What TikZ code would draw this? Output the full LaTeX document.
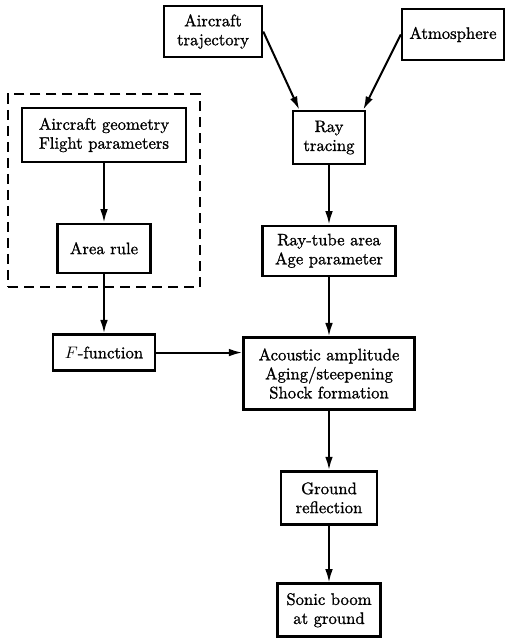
\documentclass[tikz,border=0pt]{standalone}
\usepackage{fontspec}
\usepackage{tikz}
\usetikzlibrary{arrows.meta,calc,positioning,fit}
\newfontfamily\boxfont[FakeBold=1.1]{lmroman10-regular.otf}

\begin{document}
\begin{tikzpicture}[node distance=1.25cm,
    every node/.style={font=\fontsize{10}{11.4}\boxfont},
    box/.style={draw, line width=1.5pt, align=center, inner sep=2pt},
    flow/.style={-{Latex[length=8pt,width=4.6pt]}, line width=1.2pt},
    dashbox/.style={draw, line width=1.2pt, dash pattern=on 6pt off 3.6pt, inner sep=7.6pt}]
    \useasboundingbox (0,0) rectangle (303pt,-382.8pt);

    % inputs along the top
    \node[box, minimum width=58.8pt, minimum height=30.6pt] (traj) at (127.8pt,-18.9pt) {Aircraft\\trajectory};
    \node[box, minimum width=61.2pt, minimum height=30.6pt] (atmos) at (271.8pt,-20.7pt) {Atmosphere};
    \node[box, minimum width=43.2pt, minimum height=31.8pt] (ray) at (197.4pt,-82.5pt) {Ray\\tracing};
    \node[box, below=of ray, minimum width=79.8pt, minimum height=30pt] (tube) {Ray-tube area\\Age parameter};
    \node[box, below=of tube, minimum width=102.6pt, minimum height=43.2pt] (acou) {Acoustic amplitude\\Aging/steepening\\Shock formation};
    \node[box, below=of acou, minimum width=57.6pt, minimum height=31.8pt] (ground) {Ground\\reflection};
    \node[box, below=1.2cm of ground, minimum width=61.8pt, minimum height=31.8pt] (sonic) {Sonic boom\\at ground};

    % aircraft side
    \node[box, minimum width=98.4pt, minimum height=32.4pt] (geom) at (62.4pt,-81pt) {Aircraft geometry\\Flight parameters};
    \node[box, below=of geom, minimum width=55.8pt, minimum height=29.4pt] (area) {Area rule};
    \node[box, below=of area, minimum width=61.2pt, minimum height=21.6pt] (ffun) {$F$-function};
    \node[dashbox, fit=(geom)(area)] (group) {};

    \draw[flow] (traj.east) -- (ray.137);
    \draw[flow] (atmos.west) -- (ray.39);
    \foreach \a/\b in {ray/tube,tube/acou,acou/ground,ground/sonic,geom/area,area/ffun}
      \draw[flow] (\a) -- (\b);
    \draw[flow] (ffun.east) -- (ffun.east -| acou.west);
  \end{tikzpicture}
\end{document}
